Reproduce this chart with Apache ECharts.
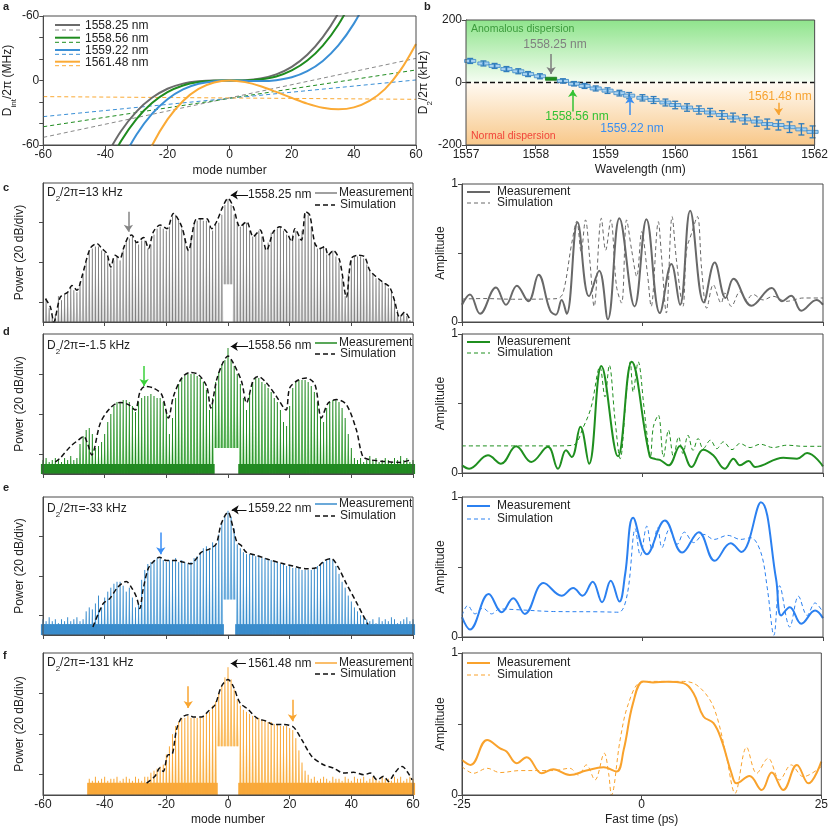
<!DOCTYPE html>
<html>
<head>
<meta charset="utf-8">
<title>Dispersion and soliton spectra</title>
<script src="https://cdn.jsdelivr.net/npm/echarts@6/dist/echarts.min.js"></script>
<style>
html, body { margin: 0; padding: 0; background: #fff; }
#main { width: 831px; height: 828px; }
</style>
</head>
<body>
<div id="main"></div>
<script>
// ---------- data ----------
// panel a: integrated dispersion (MHz) vs mode number
const aSolidGray = [[-40,-71.8],[-35,-47.2],[-30,-28.9],[-25,-16.1],[-20,-7.7],[-15,-2.9],[-10,-0.7],[-5,0],[0,0],[5,0.3],[10,1.9],[15,5.7],[20,12.7],[25,23.9],[30,40.3],[35,62.6],[40,92]];
const aSolidGreen = [[-40,-84],[-35,-56.6],[-30,-35.9],[-25,-21],[-20,-10.9],[-15,-4.7],[-10,-1.5],[-5,-0.2],[0,0],[5,0.1],[10,1.1],[15,3.8],[20,9.4],[25,18.6],[30,32.5],[35,51.9],[40,77.9]];
const aSolidBlue = [[-35,-76.4],[-30,-50.4],[-25,-31.1],[-20,-17.4],[-15,-8.3],[-10,-3.1],[-5,-0.6],[0,0],[5,-0.3],[10,-0.5],[15,0.3],[20,3],[25,8.7],[30,18.2],[35,32.6],[40,52.9],[45,79.6]];
const aSolidOrange = [[-30,-92.8],[-25,-60.5],[-20,-36.2],[-15,-19],[-10,-7.8],[-5,-1.8],[0,0],[5,-1.5],[10,-5.3],[15,-10.6],[20,-16.2],[25,-21.5],[30,-25.3],[35,-26.8],[40,-25],[45,-18.9],[50,-8],[55,9.6],[60,34]];
const aDashGray = [[-60,-52.9],[60,20.6]];
const aDashGreen = [[-60,-43],[60,9.8]];
const aDashBlue = [[-60,-33.6],[60,0.5]];
const aDashOrange = [[-60,-15],[60,-17.5]];
const aNames = ['1558.25 nm', '1558.56 nm', '1559.22 nm', '1561.48 nm'];

// panel b: D2/2pi (kHz) vs wavelength
const bWavelength = [1557.06,1557.25,1557.41,1557.58,1557.75,1557.89,1558.06,1558.22,1558.39,1558.55,1558.70,1558.86,1559.03,1559.20,1559.34,1559.53,1559.69,1559.86,1560.00,1560.17,1560.34,1560.50,1560.67,1560.83,1561.00,1561.17,1561.32,1561.48,1561.64,1561.81,1561.97];
const bD2 = [69,61,53,43,36,27,20,12,5,-4,-11,-19,-26,-34,-42,-49,-56,-64,-72,-80,-88,-96,-104,-112,-118,-125,-133,-136,-143,-150,-158];
const bErr = [8,8,8,8,8,8,8,6,7,7,8,8,9,9,10,10,11,11,12,12,13,13,14,14,15,15,16,16,17,18,19];
const bHighlight = 7; // index of the green (1558.25 nm) point
const bZero = [[1557,0],[1562,0]];

// panels c-f left: comb line power (dB, 20 dB/div) per mode -60..60
const modeNumbers = Array.from({ length: 121 }, (_, i) => i - 60);
const cPeak = [-10,2,-3,-8,-6,3,1,4,5,7,
  6,5,10,14,20,25,27,28,28,26,
  25,22,17,21,23,21,26,30,32,33,
  31,29,31,31,27,29,34,37,38,37,
  36,38,43,44,41,37,32,27,33,40,
  41,42,41,41,38,36,39,40,44,49,
  52,49,44,40,38,40,40,36,33,34,
  36,33,27,30,35,36,37,38,36,34,
  31,34,36,32,36,44,44,38,30,27,
  27,28,24,24,26,23,20,12,3,14,
  21,23,23,23,22,19,16,14,12,11,
  10,9,7,5,1,-4,-7,-5,-7,-9,-10];
const dPeak = [-3,-2,-4,-3,-2,-3,-4,-2,-3,-1,-3,-2,
  5,9,12,13,10,3,
  4,6,10,16,20,24,26,26,27,27,26,24,21,
  26,28,29,29,30,29,28,28,26,22,
  10,18,28,35,38,39,40,40,40,39,38,36,32,
  22,28,36,41,45,47,53,47,44,40,35,28,22,
  30,36,38,38,36,35,33,31,28,26,22,16,14,
  24,33,36,37,37,37,36,34,31,26,18,16,
  23,26,27,27,26,23,18,10,3,-2,
  -3,-2,-4,-3,-1,-3,-2,-4,-3,-2,-3,-4,-2,-3,-1,-3,-2,-4,-3];
const ePeak = [-2,-3,-1,-3,-2,-4,-2,-3,-1,-3,-2,-1,-3,-2,
  2,4,3,6,10,4,9,12,14,16,17,17,15,12,14,9,4,6,
  18,23,26,27,28,29,29,28,27,28,28,29,27,28,27,26,27,29,30,32,34,35,33,37,36,41,47,50,
  53,50,44,36,34,32,31,31,31,30,30,29,29,28,28,27,27,26,26,25,25,24,24,24,23,23,23,23,24,25,26,
  27,28,29,28,25,21,17,14,10,7,4,2,0,-1,-2,
  -3,-2,-4,-1,-3,-2,-3,-1,-2,-4,-3,-2,-1,-3,-2];
const fPeak = [null,null,null,null,null,null,null,null,null,null,null,null,null,null,null,
  -2,-3,-1,-3,-2,-1,-3,-2,-2,-1,-3,-2,-1,-2,-3,-1,-2,-3,-1,
  -1,1,2,3,4,5,10,14,20,24,26,28,28,29,28,28,28,28,29,30,
  31,34,36,40,44,48,53,47,42,37,34,32,31,30,29,28,28,27,27,26,
  26,25,25,24,24,24,23,22,18,12,6,2,0,
  -2,-1,-3,-2,-1,-2,-3,-1,-2,-2,-3,-1,-2,-3,-1,-2,-2,-1,-3,-2,
  -1,-2,-3,-1,-2,-2,-3,-1,-2,-1,-3,-2,-1,-2];
// noise floor top (dB), pump-notch modes and their lower level
const cNoise = null, dNoise = -5, eNoise = -4.5, fNoise = -4;
const cNotch = [-1,0,1], dNotch = [-4,-3,-2,-1,0,1,2,3], eNotch = [-1,0,1,2], fNotch = [-3,-2,-1,0,1,2,3];
const cNotchLow = 9, dNotchLow = 3, eNotchLow = 8, fNotchLow = 14;

// simulated spectral envelopes [mode, dB]
const cSim = [[-59.2,1.7],[-57.6,-2.5],[-56.5,-10],[-54.4,2.5],[-52,5],[-50.6,8.4],[-49,6],[-47.4,12.7],[-44.7,27],[-42.5,29.5],[-40.9,27],[-39.3,24.5],[-38,17.7],[-36.6,23.6],[-35,22],[-33.9,27],[-32.3,33],[-31.2,33.8],[-29.6,30],[-27.4,32.6],[-25.8,27],[-24.2,35.4],[-22,38.8],[-19.8,37],[-17.7,44.7],[-15,38],[-12.8,26],[-10.1,42],[-6.9,42],[-5.3,37],[-3.7,40.5],[-1.7,48],[0,52.3],[1.7,48],[3.9,38],[6,40.5],[8.2,33],[10.4,36.3],[12.5,26],[14.7,35.4],[16.8,38],[19,35.4],[20.6,30.4],[21.7,37],[23.8,31.2],[25.2,45.6],[26.5,43.9],[28.2,29.5],[29.8,27],[31.4,28],[32.5,23.6],[34.1,26],[36.2,21],[38.4,2.5],[40,22],[42.2,23.6],[44.3,22.8],[46,16],[48.1,12.7],[50.3,10],[52.4,7.6],[54,0.8],[55.7,-7.6],[57.3,-5],[58.9,-8.4]];
const dSim = [[-56,-4],[-54.4,-2],[-51.1,3.8],[-48.5,7],[-46.8,8.8],[-45.5,5],[-44.2,-0.5],[-41.4,15.5],[-38.2,23],[-35,25.8],[-32.3,24.7],[-30.1,22],[-28.5,31.3],[-26.9,33.8],[-24.2,33],[-21.5,29.7],[-19.3,18],[-17.7,28.8],[-15,38],[-12.3,40.8],[-9.6,39.7],[-6.9,33.8],[-5.6,23],[-3.7,37],[-1.7,45.5],[0,49],[1.7,45.5],[4.4,36.3],[6,25.5],[8.2,37],[9.8,38.8],[12.5,35.5],[15.7,28.8],[18.8,22],[20,33],[22.8,37],[25.5,38],[28.2,34.7],[30.3,18],[32.5,25.5],[35.2,27.2],[38.4,24.7],[41.6,12.2],[43.7,-1.2],[45.9,-2.8],[50.3,-3.7],[55.7,-4.2],[59.5,-2.8]];
const eSim = [[-43.8,-5.9],[-40.5,5.9],[-38.4,8.4],[-35.7,14.3],[-33,17.2],[-31.4,14.3],[-29.7,9.3],[-28.6,3.4],[-27.6,12.6],[-25.9,23.6],[-24.3,27],[-22.2,29.5],[-20,27.8],[-16.8,27.8],[-14.6,27],[-11.9,26.1],[-10.3,28.7],[-8.6,32],[-5.9,33.7],[-3.8,36.3],[-2.2,46.4],[0,52.3],[1.6,44.7],[2.9,37.1],[4.3,35.4],[5.9,32],[9.2,30.4],[12.4,28.7],[16.8,26.6],[21.1,25],[25.4,23.6],[28.6,24.1],[31.4,27.8],[33.5,28.7],[35.7,24.5],[38.4,16],[41.6,6.7],[43.8,0],[45.4,-4.6]];
const fSim = [[-26.4,-4.1],[-23.7,-0.8],[-22.1,3.3],[-21,1.6],[-19.4,9.9],[-18.3,9.9],[-16.7,22.2],[-15.1,28],[-12.9,29.6],[-11.3,28.5],[-8.6,28.5],[-6.4,31.3],[-4.2,34.5],[-2.1,43.6],[0,46.9],[1.7,43.6],[3.9,35.4],[6.6,32.1],[9.3,28],[12.6,26.3],[14.7,24.7],[18,24.7],[21.2,23.5],[23.9,17.3],[27.2,9],[31,4.9],[34.2,3.3],[37.5,0.8],[40.7,1.2],[44,0],[46.2,0.8],[48.3,-2.5],[50.5,-0.8],[52.1,-3.3],[53.7,0],[55.4,3.3],[56.5,4.1],[58.1,1.6],[59.7,-2.5]];

// panels c-f right: amplitude vs fast time (ps)
const cMeasAmp = [[-25,0.125],[-23.9,0.2],[-22.5,0.06],[-20.3,0.25],[-18.9,0.125],[-17.4,0.263],[-15.8,0.15],[-14.4,0.342],[-12.8,0.084],[-12,0.053],[-11.2,0.16],[-10.5,0.06],[-9,0.723],[-7.4,0.186],[-6,0.371],[-4.8,0.02],[-3.2,0.752],[-1.1,0.113],[0.55,0.745],[2.4,0.065],[4,0.42],[5.2,0.125],[6.6,0.807],[8.5,0.142],[10,0.431],[11.5,0.174],[12.6,0.313],[15.1,0.118],[17.9,0.246],[19.3,0.15],[20.6,0.19],[22,0.082],[24.1,0.16],[25,0.125]];
const cSimAmp = [[-25,0.166],[-22,0.17],[-18,0.165],[-14,0.166],[-11.8,0.17],[-11,0.21],[-9.8,0.57],[-9.1,0.73],[-8.5,0.51],[-7.9,0.74],[-7.3,0.45],[-6.7,0.113],[-5.7,0.752],[-5.1,0.52],[-4.4,0.74],[-3.6,0.258],[-2.9,0.137],[-2.2,0.74],[-1.5,0.52],[-0.8,0.33],[-0.1,0.655],[0.7,0.342],[1.2,0.113],[2.2,0.727],[2.6,0.5],[3.3,0.065],[4.1,0.764],[4.7,0.45],[5.6,0.113],[6.1,0.52],[6.8,0.643],[7.6,0.764],[8.2,0.378],[8.9,0.1],[9.8,0.27],[10.9,0.137],[11.4,0.21],[12.3,0.113],[13.5,0.22],[14.4,0.16],[15.3,0.2],[16.7,0.16],[18.1,0.186],[19.9,0.15],[22.3,0.174],[25,0.174]];
const dMeasAmp = [[-25,0.055],[-24,0.031],[-21.4,0.127],[-19.6,0.067],[-17.5,0.192],[-15.4,0.08],[-13.1,0.188],[-11.7,0.031],[-10.6,0.163],[-9.8,0.115],[-8.6,0.332],[-7.4,0.067],[-5.7,0.77],[-3.4,0.12],[-1.5,0.8],[1,0.12],[1.8,0.1],[2.4,0.095],[3.6,0.055],[5.2,0.195],[6.8,0.043],[8.4,0.168],[9.8,0.127],[11.4,0.031],[12.6,0.103],[13.5,0.055],[14.7,0.087],[15.6,0.043],[19.5,0.11],[21.4,0.103],[22.8,0.144],[25,0.048]];
const dSimAmp = [[-25,0.195],[-18,0.195],[-12,0.195],[-9.6,0.2],[-8.2,0.33],[-7.1,0.476],[-5.9,0.764],[-5.2,0.548],[-4.6,0.776],[-3.8,0.38],[-3.1,0.103],[-2.2,0.596],[-1.7,0.8],[-1.3,0.584],[-0.6,0.8],[0.2,0.476],[0.55,0.308],[1.1,0.115],[1.5,0.332],[2.2,0.416],[2.9,0.115],[3.6,0.308],[4.3,0.115],[5,0.26],[5.6,0.14],[6.3,0.272],[7,0.163],[7.7,0.248],[8.4,0.175],[9.4,0.236],[10.3,0.175],[11.2,0.224],[12.4,0.168],[13.5,0.212],[14.9,0.183],[16.3,0.207],[18.1,0.183],[20,0.2],[22.3,0.192],[25,0.192]];
const eMeasAmp = [[-25,0.142],[-23.9,0.054],[-21.3,0.307],[-19.5,0.177],[-17.9,0.277],[-16.3,0.165],[-13.7,0.385],[-11.2,0.295],[-9.6,0.35],[-8.3,0.295],[-6.9,0.395],[-5.6,0.248],[-4.4,0.402],[-3.2,0.253],[-2.4,0.45],[-1.3,0.851],[0.6,0.591],[3.1,0.832],[5.5,0.603],[7.8,0.749],[10,0.544],[12.2,0.669],[13.7,0.608],[16.4,0.962],[18.5,0.414],[19.2,0.154],[20.4,0.213],[22,0.095],[23.9,0.189],[25,0.135]];
const eSimAmp = [[-25,0.154],[-24.2,0.225],[-23.2,0.165],[-22.1,0.206],[-20.9,0.165],[-19.8,0.2],[-17,0.194],[-12.3,0.182],[-6,0.18],[-3.3,0.177],[-2.1,0.307],[-1,0.773],[-0.3,0.58],[0.6,0.792],[1.3,0.626],[2.1,0.78],[2.7,0.638],[3.7,0.768],[4.8,0.662],[5.8,0.749],[7.1,0.674],[8.5,0.733],[9.9,0.697],[11.8,0.726],[13.6,0.697],[15,0.709],[16.4,0.603],[17.3,0.343],[18.2,0.012],[19,0.366],[20.4,0.071],[21.6,0.291],[22.8,0.154],[23.9,0.243],[25,0.177]];
const fMeasAmp = [[-25,0.247],[-23.8,0.212],[-21.5,0.388],[-19.7,0.329],[-18.8,0.306],[-17.4,0.224],[-16,0.266],[-13.9,0.153],[-12.3,0.181],[-10,0.141],[-7.7,0.172],[-5.3,0.195],[-3.5,0.165],[-2.5,0.318],[-1.2,0.647],[0.2,0.8],[1.6,0.793],[3.5,0.798],[5.8,0.788],[7.2,0.718],[8.6,0.553],[10,0.506],[11.1,0.388],[12.5,0.153],[13.2,0.082],[15,0.134],[16.7,0.035],[18.1,0.158],[19.7,0.035],[21.6,0.212],[23.2,0.082],[25,0.235]];
const fSimAmp = [[-25,0.2],[-23.4,0.153],[-21.5,0.188],[-19.7,0.158],[-16.9,0.172],[-12.3,0.172],[-10,0.188],[-8.8,0.141],[-7.7,0.212],[-6.5,0.106],[-5.2,0.294],[-4.6,0.153],[-4.2,0],[-3,0.388],[-1.9,0.635],[-0.2,0.793],[1.6,0.8],[5.8,0.8],[7.6,0.776],[9.5,0.67],[10.6,0.529],[11.8,0.27],[13,0.012],[14.6,0.336],[16,0.153],[17.6,0.259],[19.2,0.106],[20.8,0.212],[22.5,0.129],[25,0.2]];

// ---------- styling ----------
const FONT = '"Liberation Sans", Arial, sans-serif';
const AX = '#4a4a4a';
const TXT = '#222';
const DB_MIN = -10, DB_MAX = 60;
const subRich = { sub: { fontSize: 8, lineHeight: 14, verticalAlign: 'bottom', padding: [0, 0, -3, 0], fontFamily: FONT, color: TXT } };

const chart = echarts.init(document.getElementById('main'), null, { renderer: 'canvas' });

const gridBoxes = [
  [43, 16, 373, 129], [466, 20, 351, 125],
  [43, 183, 370, 139], [462, 184, 361, 138],
  [43, 334, 370, 140], [462, 334, 361, 139],
  [43, 497, 370, 138], [462, 497, 361, 140],
  [43, 653, 370, 142], [462, 653, 361, 142]
];
const grid = gridBoxes.map(g => ({
  left: g[0], top: g[1], width: g[2], height: g[3],
  show: true, borderColor: AX, borderWidth: 1, backgroundColor: 'rgba(0,0,0,0)', z: 10
}));

function axis(gi, o) {
  return {
    type: 'value', gridIndex: gi, min: o.min, max: o.max, interval: o.interval,
    axisLine: { show: true, onZero: false, lineStyle: { color: AX } },
    axisTick: Object.assign({ show: true, length: 4, lineStyle: { color: AX } }, o.tick || {}),
    axisLabel: { show: o.labels !== false, color: TXT, fontSize: 12, fontFamily: FONT, margin: 4,
      formatter: o.fmt || (v => String(v)) },
    splitLine: { show: false },
    name: o.name || '', nameLocation: 'middle', nameGap: o.gap || 18,
    nameTextStyle: { fontSize: 12, fontFamily: FONT, color: TXT, lineHeight: 14, rich: subRich }
  };
}

const xAxis = [], yAxis = [];
// a
xAxis.push(axis(0, { min: -60, max: 60, interval: 20, name: 'mode number', gap: 19 }));
yAxis.push(axis(0, { min: -60, max: 60, interval: 20, name: 'D{sub|int}/2π (MHz)', gap: 26,
  fmt: v => (v === 60 || v === -60) ? '-60' : (v === 0 ? '0' : '') }));
// b
xAxis.push(axis(1, { min: 1557, max: 1562, interval: 1, name: 'Wavelength (nm)', gap: 18 }));
yAxis.push(axis(1, { min: -200, max: 200, interval: 200, name: 'D{sub|2}/2π (kHz)', gap: 20 }));
// c-f
for (let p = 0; p < 4; p++) {
  const last = p === 3;
  const gl = 2 + p * 2, gr = 3 + p * 2;
  xAxis.push(axis(gl, { min: -60, max: 60, interval: 20, labels: last, name: last ? 'mode number' : '', gap: 18 }));
  yAxis.push(axis(gl, { min: DB_MIN, max: DB_MAX, labels: false, name: 'Power (20 dB/div)', gap: 16,
    tick: { customValues: [0, 20, 40] } }));
  xAxis.push(axis(gr, { min: -25, max: 25, interval: 25, labels: last, name: last ? 'Fast time (ps)' : '', gap: 18 }));
  yAxis.push(axis(gr, { min: 0, max: 1, interval: 0.5, name: 'Amplitude', gap: 13,
    fmt: v => v === 0 ? '0' : (v === 1 ? '1' : '') }));
}

const series = [];

// ---- panel a
const aColors = ['#6b6b6b', '#1f8c1f', '#3a8fd6', '#fbaa35'];
const aDashColors = ['#8a8a8a', '#1f8c1f', '#3a8fd6', '#fbaa35'];
[aDashGray, aDashGreen, aDashBlue, aDashOrange].forEach((d, i) => series.push({
  type: 'line', xAxisIndex: 0, yAxisIndex: 0, data: d, showSymbol: false, symbol: 'none', silent: true,
  lineStyle: { color: aDashColors[i], width: 1, type: [4, 3] }
}));
[aSolidGray, aSolidGreen, aSolidBlue, aSolidOrange].forEach((d, i) => series.push({
  type: 'line', xAxisIndex: 0, yAxisIndex: 0, data: d, smooth: 0.35, showSymbol: false, symbol: 'none', silent: true,
  clip: true, lineStyle: { color: aColors[i], width: 2 }
}));

// ---- panel b
function arrowLine(from, to, color, width) {
  return [{ coord: from, lineStyle: { color: color, width: width, type: 'solid' } }, { coord: to }];
}
series.push({
  type: 'line', xAxisIndex: 1, yAxisIndex: 1, data: bZero, showSymbol: false, symbol: 'none', silent: true,
  lineStyle: { color: '#111', width: 1.5, type: [5, 3] }, z: 3,
  markArea: {
    silent: true,
    data: [
      [{ yAxis: 200, itemStyle: { color: { type: 'linear', x: 0, y: 0, x2: 0, y2: 1,
          colorStops: [{ offset: 0, color: '#8fe48c' }, { offset: 1, color: '#f5fdf2' }] } } }, { yAxis: 0 }],
      [{ yAxis: 0, itemStyle: { color: { type: 'linear', x: 0, y: 0, x2: 0, y2: 1,
          colorStops: [{ offset: 0, color: '#fffaf2' }, { offset: 1, color: '#f8c88a' }] } } }, { yAxis: -200 }]
    ]
  },
  markLine: {
    silent: true, symbol: ['none', 'arrow'], symbolSize: 7, label: { show: false },
    data: [
      arrowLine([1558.22, 91], [1558.22, 27], '#7d7d7d', 1.5),
      arrowLine([1558.53, -93], [1558.53, -24], '#33c233', 1.5),
      arrowLine([1559.35, -104], [1559.35, -45], '#3a8ef0', 1.5),
      arrowLine([1561.48, -65], [1561.48, -104], '#f7a330', 1.5)
    ]
  }
});
series.push({
  type: 'custom', xAxisIndex: 1, yAxisIndex: 1, z: 4, silent: true,
  data: bWavelength.map((w, i) => [w, bD2[i], bErr[i]]),
  encode: { x: 0, y: 1 },
  renderItem: function (params, api) {
    const w = api.value(0), v = api.value(1), e = api.value(2);
    const c = api.coord([w, v]);
    const hw = api.size([0.08, 0])[0];
    const hi = params.dataIndex === bHighlight;
    const kids = [{
      type: 'rect', shape: { x: c[0] - hw, y: c[1] - 1.5, width: 2 * hw, height: 3 },
      style: { fill: hi ? '#1f8f1f' : '#a9d3f2', stroke: hi ? '#16761a' : '#3a88c8', lineWidth: 0.8 }
    }];
    if (!hi) {
      const up = api.coord([w, v + e]), dn = api.coord([w, v - e]);
      const st = { stroke: '#2f7cbc', lineWidth: 1.3 };
      kids.push({ type: 'line', shape: { x1: c[0], y1: up[1], x2: c[0], y2: dn[1] }, style: st });
      kids.push({ type: 'line', shape: { x1: c[0] - 3, y1: up[1], x2: c[0] + 3, y2: up[1] }, style: st });
      kids.push({ type: 'line', shape: { x1: c[0] - 3, y1: dn[1], x2: c[0] + 3, y2: dn[1] }, style: st });
      kids.push({ type: 'circle', shape: { cx: c[0], cy: c[1], r: 1 }, style: { fill: '#2f7cbc' } });
    }
    return { type: 'group', children: kids };
  }
});

// ---- panels c-f
function spectrumSeries(gi, peaks, dark, light, noise, notch, notchLow) {
  return {
    type: 'custom', xAxisIndex: gi, yAxisIndex: gi, silent: true, z: 2,
    data: modeNumbers.map((m, i) => [m, peaks[i]]).filter(d => d[1] !== null),
    encode: { x: 0, y: 1 },
    renderItem: function (params, api) {
      const m = api.value(0), v = api.value(1);
      const notched = notch.indexOf(m) >= 0;
      const base = notched ? notchLow : DB_MIN;
      const pt = api.coord([m, v]);
      const pb = api.coord([m, base]);
      const hw = api.size([0.48, 0])[0];
      const kids = [{
        type: 'polygon', shape: { points: [[pt[0] - hw, pb[1]], [pt[0], pt[1]], [pt[0] + hw, pb[1]]] },
        style: { fill: light }
      }];
      if (noise !== null && !notched) {
        const pn = api.coord([m, noise]);
        const p0 = api.coord([m, DB_MIN]);
        kids.push({ type: 'rect', shape: { x: pn[0] - hw - 0.6, y: pn[1], width: 2 * hw + 1.2, height: p0[1] - pn[1] },
          style: { fill: dark } });
      }
      kids.push({ type: 'line', shape: { x1: pt[0], y1: pb[1], x2: pt[0], y2: pt[1] }, style: { stroke: dark, lineWidth: 1 } });
      return { type: 'group', children: kids };
    }
  };
}
function simSeries(gi, data, arrows) {
  return {
    type: 'line', xAxisIndex: gi, yAxisIndex: gi, data: data, smooth: 0.3, showSymbol: false, symbol: 'none',
    silent: true, z: 5, lineStyle: { color: '#111', width: 1.5, type: [5, 3] },
    markLine: { silent: true, symbol: ['none', 'arrow'], symbolSize: 7, label: { show: false }, data: arrows }
  };
}
function ampSeries(gi, meas, sim, color) {
  return [
    { type: 'line', xAxisIndex: gi, yAxisIndex: gi, data: sim, smooth: 0.35, showSymbol: false, symbol: 'none',
      silent: true, lineStyle: { color: color, width: 1, type: [4, 3] } },
    { type: 'line', xAxisIndex: gi, yAxisIndex: gi, data: meas, smooth: 0.4, showSymbol: false, symbol: 'none',
      silent: true, lineStyle: { color: color, width: 2 } }
  ];
}

series.push(spectrumSeries(2, cPeak, '#808080', '#d2d2d2', cNoise, cNotch, cNotchLow));
series.push(simSeries(2, cSim, [
  arrowLine([6.5, 54], [0.9, 54], '#111', 1),
  arrowLine([-32.3, 45.5], [-32.3, 35.4], '#858585', 1.5)
]));
series.push(...ampSeries(3, cMeasAmp, cSimAmp, '#686868'));

series.push(spectrumSeries(4, dPeak, '#228a22', '#90d68e', dNoise, dNotch, dNotchLow));
series.push(simSeries(4, dSim, [
  arrowLine([6.5, 53.8], [0.9, 53.8], '#111', 1),
  arrowLine([-27.2, 44], [-27.2, 34], '#3ad03a', 1.5)
]));
series.push(...ampSeries(5, dMeasAmp, dSimAmp, '#1f8f1f'));

series.push(spectrumSeries(6, ePeak, '#3a8ccc', '#a8d1ef', eNoise, eNotch, eNotchLow));
series.push(simSeries(6, eSim, [
  arrowLine([6, 53.5], [1.2, 53.5], '#111', 1),
  arrowLine([-21.8, 42], [-21.8, 31], '#3a8ef5', 1.5)
]));
series.push(...ampSeries(7, eMeasAmp, eSimAmp, '#2b80f0'));

series.push(spectrumSeries(8, fPeak, '#f9a93a', '#fcd698', fNoise, fNotch, fNotchLow));
series.push(simSeries(8, fSim, [
  arrowLine([5.8, 54.8], [0.9, 54.8], '#111', 1),
  arrowLine([-12.9, 43.6], [-12.9, 32.9], '#f9a530', 1.5),
  arrowLine([20.9, 37], [20.9, 26.3], '#f9a530', 1.5)
]));
series.push(...ampSeries(9, fMeasAmp, fSimAmp, '#f9a22c'));

// ---------- text and legends ----------
const graphic = [];
function txt(x, y, s, o) {
  o = o || {};
  graphic.push({
    type: 'text', x: x, y: y, z: 20, silent: true,
    style: { text: s, fontSize: o.size || 12, fontFamily: FONT, fontWeight: o.weight || 'normal',
      fill: o.color || TXT, align: o.align || 'left', verticalAlign: 'middle', rich: subRich }
  });
}
function seg(x1, x2, y, color, width, dash) {
  graphic.push({ type: 'line', z: 20, silent: true, shape: { x1: x1, y1: y, x2: x2, y2: y },
    style: { stroke: color, lineWidth: width, lineDash: dash || null } });
}
// panel letters
[['a', 3, 7], ['b', 424, 7], ['c', 3, 188], ['d', 3, 332], ['e', 3, 488], ['f', 3, 656]].forEach(l =>
  txt(l[1], l[2], l[0], { weight: 'bold', size: 11 }));

// legend of a
[[25, 30, 26], [37.7, 42.3, 38.3], [50, 54.3, 51], [61.7, 65.7, 62.7]].forEach((r, i) => {
  seg(55, 80, r[0], aColors[i], 2);
  seg(55, 80, r[1], aDashColors[i], 1, [4, 3]);
  txt(85, r[2], aNames[i]);
});

// panel b labels
txt(471, 29, 'Anomalous dispersion', { color: '#3c9b3c', size: 10.5 });
txt(471, 136, 'Normal dispersion', { color: '#f0453a', size: 10.5 });
txt(555, 45, '1558.25 nm', { color: '#808080', align: 'center' });
txt(577, 117, '1558.56 nm', { color: '#33c233', align: 'center' });
txt(632, 129, '1559.22 nm', { color: '#3a8ef0', align: 'center' });
txt(780, 97, '1561.48 nm', { color: '#f7a330', align: 'center' });

// panels c-f texts and legends
const panelText = [
  ['D{sub|2}/2π=13 kHz', '1558.25 nm', 193, 195, '#808080', '#686868', [193, 205], [192, 203]],
  ['D{sub|2}/2π=-1.5 kHz', '1558.56 nm', 346, 346, '#228a22', '#1f8f1f', [343, 354], [342, 353]],
  ['D{sub|2}/2π=-33 kHz', '1559.22 nm', 509, 509, '#3a8ccc', '#2b80f0', [504, 516], [506, 519]],
  ['D{sub|2}/2π=-131 kHz', '1561.48 nm', 663, 664, '#f9a93a', '#f9a22c', [663, 674], [663, 675]]
];
panelText.forEach(p => {
  txt(47, p[2], p[0]);
  txt(248, p[3], p[1]);
  seg(315, 337, p[6][0], p[4], 1.5);
  txt(339, p[6][0], 'Measurement');
  seg(315, 335, p[6][1], '#111', 1.5, [5, 3]);
  txt(340, p[6][1], 'Simulation');
  seg(467, 490, p[7][0], p[5], 2);
  txt(497, p[7][0], 'Measurement');
  seg(467, 490, p[7][1], p[5], 1, [4, 3]);
  txt(497, p[7][1], 'Simulation');
});

chart.setOption({
  animation: false,
  backgroundColor: '#fff',
  textStyle: { fontFamily: FONT },
  grid: grid,
  xAxis: xAxis,
  yAxis: yAxis,
  series: series,
  graphic: graphic
});
</script>
</body>
</html>
